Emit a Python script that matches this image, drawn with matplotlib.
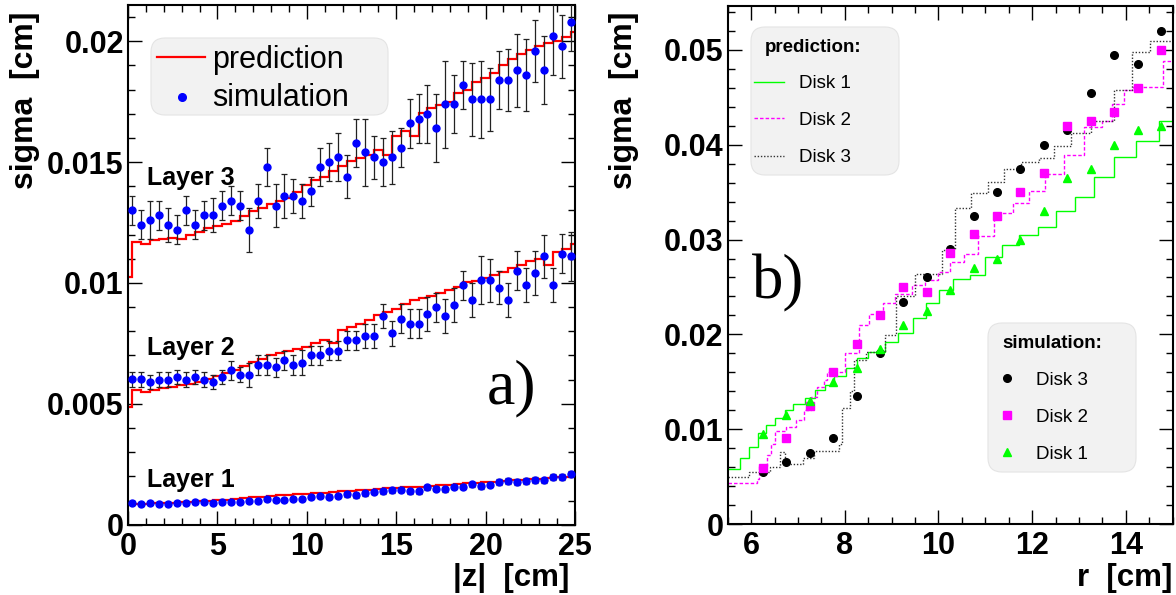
import numpy as np
import matplotlib
matplotlib.use('Agg')
import matplotlib.pyplot as plt
from matplotlib.patches import FancyBboxPatch
from matplotlib.lines import Line2D
from matplotlib.transforms import IdentityTransform
from matplotlib.ticker import MultipleLocator, FuncFormatter

plt.rcParams['font.family'] = ['Liberation Sans', 'DejaVu Sans']
plt.rcParams['font.weight'] = 'bold'

# ---------------- panel a) : barrel layers vs |z| ----------------
z_sim = np.arange(0.25, 25, 0.5)
z_edges = np.concatenate(([0.0], np.arange(0.25, 25, 0.5), [25.0]))

layer3_sim = [0.0130, 0.0124, 0.0126, 0.0128, 0.0124, 0.0122, 0.0130, 0.0124, 0.0128, 0.0128,
              0.0132, 0.0134, 0.0132, 0.0122, 0.0134, 0.0148, 0.0132, 0.0136, 0.0136, 0.0134,
              0.0138, 0.0148, 0.0150, 0.0152, 0.0144, 0.0158, 0.0154, 0.0152, 0.0150, 0.0152,
              0.0156, 0.0166, 0.0168, 0.0170, 0.0164, 0.0174, 0.0174, 0.0182, 0.0176, 0.0176,
              0.0176, 0.0184, 0.0184, 0.0188, 0.0186, 0.0196, 0.0188, 0.0202, 0.0198, 0.0208]
layer3_err = [0.0006, 0.0006, 0.0008, 0.0006, 0.0007, 0.0006, 0.0006, 0.0006, 0.0006, 0.0007,
              0.0006, 0.0006, 0.0006, 0.0009, 0.0007, 0.0008, 0.0009, 0.0009, 0.0007, 0.0007,
              0.0006, 0.0008, 0.0008, 0.0010, 0.0009, 0.0010, 0.0014, 0.0009, 0.0010, 0.0011,
              0.0008, 0.0010, 0.0010, 0.0012, 0.0014, 0.0018, 0.0012, 0.0010, 0.0015, 0.0016,
              0.0013, 0.0012, 0.0013, 0.0015, 0.0015, 0.0013, 0.0014, 0.0016, 0.0013, 0.0012]
layer3_pred = [0.01025, 0.01170, 0.01163, 0.01178, 0.01182, 0.01187, 0.01182, 0.01200, 0.01212,
               0.01226, 0.01236, 0.01244, 0.01258, 0.01276, 0.01297, 0.01312, 0.01325, 0.01338,
               0.01350, 0.01375, 0.01405, 0.01428, 0.01440, 0.01462, 0.01482, 0.01505, 0.01516,
               0.01530, 0.01550, 0.01528, 0.01610, 0.01630, 0.01610, 0.01705, 0.01722, 0.01735,
               0.01750, 0.01785, 0.01800, 0.01830, 0.01850, 0.01870, 0.01900, 0.01925, 0.01948,
               0.01965, 0.01980, 0.01992, 0.02002, 0.02018, 0.02040]

layer2_sim = [0.00601, 0.00601, 0.00590, 0.00600, 0.00600, 0.00612, 0.00600, 0.00612, 0.00600, 0.00590,
              0.00612, 0.00639, 0.00621, 0.00621, 0.00661, 0.00661, 0.00651, 0.00680, 0.00661, 0.00671,
              0.00701, 0.00701, 0.00720, 0.00720, 0.00763, 0.00763, 0.00782, 0.00782, 0.00862, 0.00791,
              0.00851, 0.00832, 0.00832, 0.00870, 0.00900, 0.00862, 0.00910, 0.00990, 0.00931, 0.01011,
              0.01011, 0.00981, 0.00931, 0.01051, 0.00990, 0.01041, 0.01110, 0.00990, 0.01121, 0.01110]
layer2_err = [0.0003, 0.0003, 0.0003, 0.0003, 0.0003, 0.0003, 0.0003, 0.0003, 0.0003, 0.0003,
              0.0003, 0.0004, 0.0003, 0.0005, 0.0004, 0.0004, 0.0004, 0.0004, 0.0004, 0.0005,
              0.0004, 0.0004, 0.0004, 0.0004, 0.0004, 0.0004, 0.0005, 0.0005, 0.0005, 0.0005,
              0.0006, 0.0006, 0.0006, 0.0007, 0.0006, 0.0007, 0.0007, 0.0006, 0.0007, 0.0010,
              0.0009, 0.0007, 0.0007, 0.0008, 0.0007, 0.0009, 0.0009, 0.0007, 0.0008, 0.0010]
layer2_pred = [0.00485, 0.00556, 0.00550, 0.00556, 0.00566, 0.00570, 0.00576, 0.00583, 0.00592,
               0.00604, 0.00615, 0.00628, 0.00640, 0.00657, 0.00672, 0.00686, 0.00700, 0.00710,
               0.00720, 0.00728, 0.00735, 0.00752, 0.00764, 0.00752, 0.00806, 0.00818, 0.00832,
               0.00845, 0.00866, 0.00880, 0.00894, 0.00912, 0.00928, 0.00938, 0.00946, 0.00958,
               0.00970, 0.00985, 0.01004, 0.01010, 0.01020, 0.01032, 0.01045, 0.01062, 0.01076,
               0.01090, 0.01098, 0.01073, 0.01130, 0.01140, 0.01163]

layer1_sim = [0.00091, 0.00085, 0.00088, 0.00085, 0.00085, 0.00091, 0.00091, 0.00095, 0.00094, 0.00091,
              0.00095, 0.00095, 0.00095, 0.00099, 0.00099, 0.00105, 0.00102, 0.00101, 0.00107, 0.00107,
              0.00114, 0.00119, 0.00116, 0.00120, 0.00125, 0.00121, 0.00130, 0.00135, 0.00138, 0.00142,
              0.00145, 0.00138, 0.00138, 0.00154, 0.00149, 0.00146, 0.00157, 0.00157, 0.00167, 0.00160,
              0.00165, 0.00178, 0.00182, 0.00175, 0.00180, 0.00185, 0.00183, 0.00196, 0.00196, 0.00209]
layer1_err = [0.00008, 0.00008, 0.00008, 0.00008, 0.00008, 0.00008, 0.00008, 0.00008, 0.00008, 0.00008,
              0.00008, 0.00008, 0.00008, 0.00008, 0.00008, 0.00009, 0.00009, 0.00009, 0.00009, 0.00009,
              0.00009, 0.00009, 0.00009, 0.00009, 0.00010, 0.00010, 0.00010, 0.00010, 0.00010, 0.00010,
              0.00010, 0.00010, 0.00010, 0.00010, 0.00010, 0.00011, 0.00011, 0.00011, 0.00011, 0.00011,
              0.00011, 0.00012, 0.00012, 0.00012, 0.00012, 0.00012, 0.00012, 0.00012, 0.00012, 0.00013]
layer1_pred = [0.00085, 0.00086, 0.00087, 0.00088, 0.00089, 0.00091, 0.00093, 0.00095, 0.00097,
               0.00100, 0.00102, 0.00104, 0.00107, 0.00110, 0.00113, 0.00116, 0.00118, 0.00121,
               0.00124, 0.00127, 0.00129, 0.00131, 0.00133, 0.00135, 0.00138, 0.00140, 0.00142,
               0.00145, 0.00147, 0.00150, 0.00152, 0.00154, 0.00156, 0.00158, 0.00161, 0.00163,
               0.00166, 0.00168, 0.00171, 0.00173, 0.00176, 0.00178, 0.00181, 0.00183, 0.00186,
               0.00188, 0.00191, 0.00194, 0.00197, 0.00199, 0.00202]

# ---------------- panel b) : forward disks vs r ----------------
r_sim = [6.25, 6.75, 7.25, 7.75, 8.25, 8.75, 9.25, 9.75, 10.25,
         10.75, 11.25, 11.75, 12.25, 12.75, 13.25, 13.75, 14.25, 14.75]
disk3_sim = [0.00547, 0.00653, 0.00751, 0.00905, 0.01351, 0.0180, 0.02347, 0.0260, 0.02905,
             0.03249, 0.03498, 0.03747, 0.0400, 0.0415, 0.04547, 0.04947, 0.04849, 0.0520]
disk2_sim = [0.00596, 0.00905, 0.01249, 0.0160, 0.01898, 0.0220, 0.0250, 0.02449, 0.02853,
             0.03053, 0.03249, 0.03498, 0.03701, 0.0420, 0.04249, 0.04347, 0.0460, 0.0500]
disk1_sim = [0.00951, 0.01151, 0.01298, 0.01498, 0.01649, 0.01849, 0.02102, 0.02249, 0.0247,
             0.02695, 0.0280, 0.0300, 0.0330, 0.03649, 0.03747, 0.0400, 0.0415, 0.0420]

disk1_edges = [5.5, 5.77, 5.96, 6.14, 6.32, 6.51, 6.72, 6.90, 7.15, 7.36, 7.57, 7.77, 8.02,
               8.26, 8.50, 8.86, 9.14, 9.46, 9.73, 10.02, 10.32, 10.68, 10.99, 11.36, 11.72,
               12.13, 12.50, 12.91, 13.32, 13.74, 14.21, 14.70, 15.0]
disk1_pred = [0.0058, 0.0070, 0.0081, 0.0096, 0.0105, 0.0112, 0.0120, 0.0127, 0.0133, 0.0141,
              0.0147, 0.0156, 0.0165, 0.0175, 0.0182, 0.0192, 0.0201, 0.0217, 0.0233, 0.0247,
              0.0258, 0.02625, 0.0282, 0.0294, 0.0305, 0.0313, 0.0330, 0.0345, 0.0366, 0.0387,
              0.0404, 0.0425]
disk2_edges = [5.5, 6.12, 6.17, 6.33, 6.43, 6.52, 6.74, 6.95, 7.13, 7.27, 7.41, 7.56, 7.63,
               8.00, 8.30, 8.52, 8.81, 9.08, 9.43, 9.72, 10.0, 10.25, 10.55, 10.84, 11.19,
               11.58, 11.94, 12.28, 12.68, 13.10, 13.50, 13.71, 13.96, 14.16, 14.80, 15.0]
disk2_pred = [0.0043, 0.0048, 0.0061, 0.0073, 0.0085, 0.0098, 0.0103, 0.0110, 0.0120, 0.0134,
              0.0145, 0.0152, 0.0160, 0.0180, 0.0210, 0.0222, 0.0233, 0.0243, 0.0252, 0.0257,
              0.0266, 0.0276, 0.0285, 0.0304, 0.0328, 0.0338, 0.0351, 0.0369, 0.0389, 0.0419,
              0.0425, 0.0443, 0.0457, 0.0461, 0.0488]
disk3_edges = [5.5, 5.95, 6.40, 6.62, 6.72, 7.10, 7.35, 7.87, 7.95, 8.12, 8.20, 8.45, 8.85,
               9.10, 9.50, 10.07, 10.36, 10.70, 11.05, 11.40, 11.76, 12.15, 12.47, 12.82,
               13.25, 13.74, 14.13, 14.52, 15.0]
disk3_pred = [0.0050, 0.0055, 0.0060, 0.0076, 0.0064, 0.0070, 0.0077, 0.0085, 0.0122, 0.0140,
              0.0173, 0.0182, 0.0199, 0.0241, 0.0264, 0.0289, 0.0333, 0.0349, 0.0361, 0.0374,
              0.0382, 0.0386, 0.0399, 0.0412, 0.0425, 0.0457, 0.0498, 0.0509]

W, H = 1176, 595
fig = plt.figure(figsize=(W / 100, H / 100), dpi=100)
ax1 = fig.add_axes([128 / W, 1 - 524.7 / H, 447 / W, 519.7 / H])
ax2 = fig.add_axes([727.7 / W, 1 - 524.3 / H, 445 / W, 518.3 / H])
PIX = IdentityTransform()


def py(y):
    # image row -> display y
    return H - y


# panel a
red = '#ff0000'
blue = '#0000ff'
for pred in (layer3_pred, layer2_pred, layer1_pred):
    ax1.stairs(pred, z_edges, baseline=None, color=red, lw=1.6, zorder=2)
for sim, err in ((layer3_sim, layer3_err), (layer2_sim, layer2_err), (layer1_sim, layer1_err)):
    ax1.errorbar(z_sim, sim, yerr=err, fmt='o', ms=5, mfc=blue, mec=blue,
                 ecolor='#222222', elinewidth=0.9, capsize=2.2, capthick=0.9, zorder=3)

ax1.set_xlim(0, 25)
ax1.set_ylim(0, 0.0215)
ax1.xaxis.set_major_locator(MultipleLocator(5))
ax1.xaxis.set_minor_locator(MultipleLocator(1))
ax1.yaxis.set_major_locator(MultipleLocator(0.005))
ax1.yaxis.set_minor_locator(MultipleLocator(0.001))

ax1.text(1.04, 0.01404, 'Layer 3', fontsize=18, fontweight='bold')
ax1.text(1.04, 0.00704, 'Layer 2', fontsize=18, fontweight='bold')
ax1.text(1.04, 0.00157, 'Layer 1', fontsize=18, fontweight='bold')
ax1.text(20.05, 0.00503, 'a)', fontsize=46, fontweight='normal',
         family=['Liberation Serif', 'DejaVu Serif'])

# panel b
green = '#00ff00'
magenta = '#ff00ff'
ax2.stairs(disk1_pred, disk1_edges, baseline=None, color=green, lw=1.0, zorder=2)
ax2.stairs(disk2_pred, disk2_edges, baseline=None, color=magenta, lw=1.0,
           linestyle=(0, (2.5, 1.5)), zorder=2)
ax2.stairs(disk3_pred, disk3_edges, baseline=None, color='#333333', lw=1.0,
           linestyle=(0, (1, 1.3)), zorder=2)
ax2.plot(r_sim, disk3_sim, 'o', ms=5.5, color='black', zorder=3)
ax2.plot(r_sim, disk2_sim, 's', ms=5.2, color=magenta, zorder=3)
ax2.plot(r_sim, disk1_sim, '^', ms=5.8, color=green, zorder=3)

ax2.set_xlim(5.5, 15)
ax2.set_ylim(0, 0.0546)
ax2.xaxis.set_major_locator(MultipleLocator(2))
ax2.xaxis.set_minor_locator(MultipleLocator(0.5))
ax2.yaxis.set_major_locator(MultipleLocator(0.01))
ax2.yaxis.set_minor_locator(MultipleLocator(0.002))
ax2.text(6.02, 0.0238, 'b)', fontsize=45, fontweight='normal',
         family=['Liberation Serif', 'DejaVu Serif'])

fmt = FuncFormatter(lambda v, p: '%g' % round(v, 6))
for ax in (ax1, ax2):
    ax.yaxis.set_major_formatter(fmt)
    ax.xaxis.set_major_formatter(fmt)
    ax.tick_params(which='both', direction='in', top=True, right=True, width=1.0,
                   labelsize=22, color='black')
    ax.tick_params(which='major', length=10)
    ax.tick_params(which='minor', length=5)
    ax.tick_params(axis='y', pad=3)
    ax.tick_params(axis='x', pad=5)
    for s in ax.spines.values():
        s.set_linewidth(1.5)

# axis titles, ROOT style (aligned to the axis ends)
fig.text(25 / W, 1 - 12 / H, 'sigma  [cm]', rotation=90, ha='center', va='top',
         fontsize=23, fontweight='bold')
fig.text(569 / W, 1 - 593 / H, '|z|  [cm]', ha='right', va='bottom',
         fontsize=22.5, fontweight='bold')
fig.text(624 / W, 1 - 12 / H, 'sigma  [cm]', rotation=90, ha='center', va='top',
         fontsize=23, fontweight='bold')
fig.text(1172 / W, 1 - 593 / H, 'r  [cm]', ha='right', va='bottom',
         fontsize=22.5, fontweight='bold')


def legend_box(x0, y0, x1, y1):
    fig.add_artist(FancyBboxPatch((x0, py(y1)), x1 - x0, y1 - y0,
                                  boxstyle='round,pad=0,rounding_size=14',
                                  transform=PIX, fc='#f2f2f2', ec='#e4e4e4', lw=0.8,
                                  zorder=5))


def legend_text(x, y, s, size, weight='normal'):
    fig.text(x / W, 1 - y / H, s, fontsize=size, fontweight=weight,
             ha='left', va='baseline', zorder=6)


# legend of panel a
legend_box(151, 38, 388, 115)
fig.add_artist(Line2D([157, 205], [py(57), py(57)], color=red, lw=1.6,
                      transform=PIX, zorder=6))
fig.add_artist(Line2D([182], [py(97)], marker='o', ms=5.5, color=blue, ls='none',
                      transform=PIX, zorder=6))
legend_text(212, 68, 'prediction', 22)
legend_text(212, 106, 'simulation', 22)

# legends of panel b
legend_box(751, 27, 899, 175)
legend_text(765, 52, 'prediction:', 13.5, 'bold')
for yy, name, col, ls in ((81.7, 'Disk 1', green, '-'),
                          (118.3, 'Disk 2', magenta, (0, (2.5, 1.5))),
                          (155.7, 'Disk 3', '#333333', (0, (1, 1.3)))):
    fig.add_artist(Line2D([754, 784], [py(yy), py(yy)], color=col, lw=1.0, ls=ls,
                          transform=PIX, zorder=6))
    legend_text(799, yy + 6.5, name, 13.5)

legend_box(988, 323, 1136, 472)
legend_text(1002, 347.5, 'simulation:', 13.5, 'bold')
for yy, name, col, mk, ms in ((378.3, 'Disk 3', 'black', 'o', 5.5),
                              (415.0, 'Disk 2', magenta, 's', 5.2),
                              (452.3, 'Disk 1', green, '^', 5.8)):
    fig.add_artist(Line2D([1007], [py(yy)], marker=mk, ms=ms, color=col, ls='none',
                          transform=PIX, zorder=6))
    legend_text(1036, yy + 6.5, name, 13.5)

fig.savefig('out.png', dpi=100)
